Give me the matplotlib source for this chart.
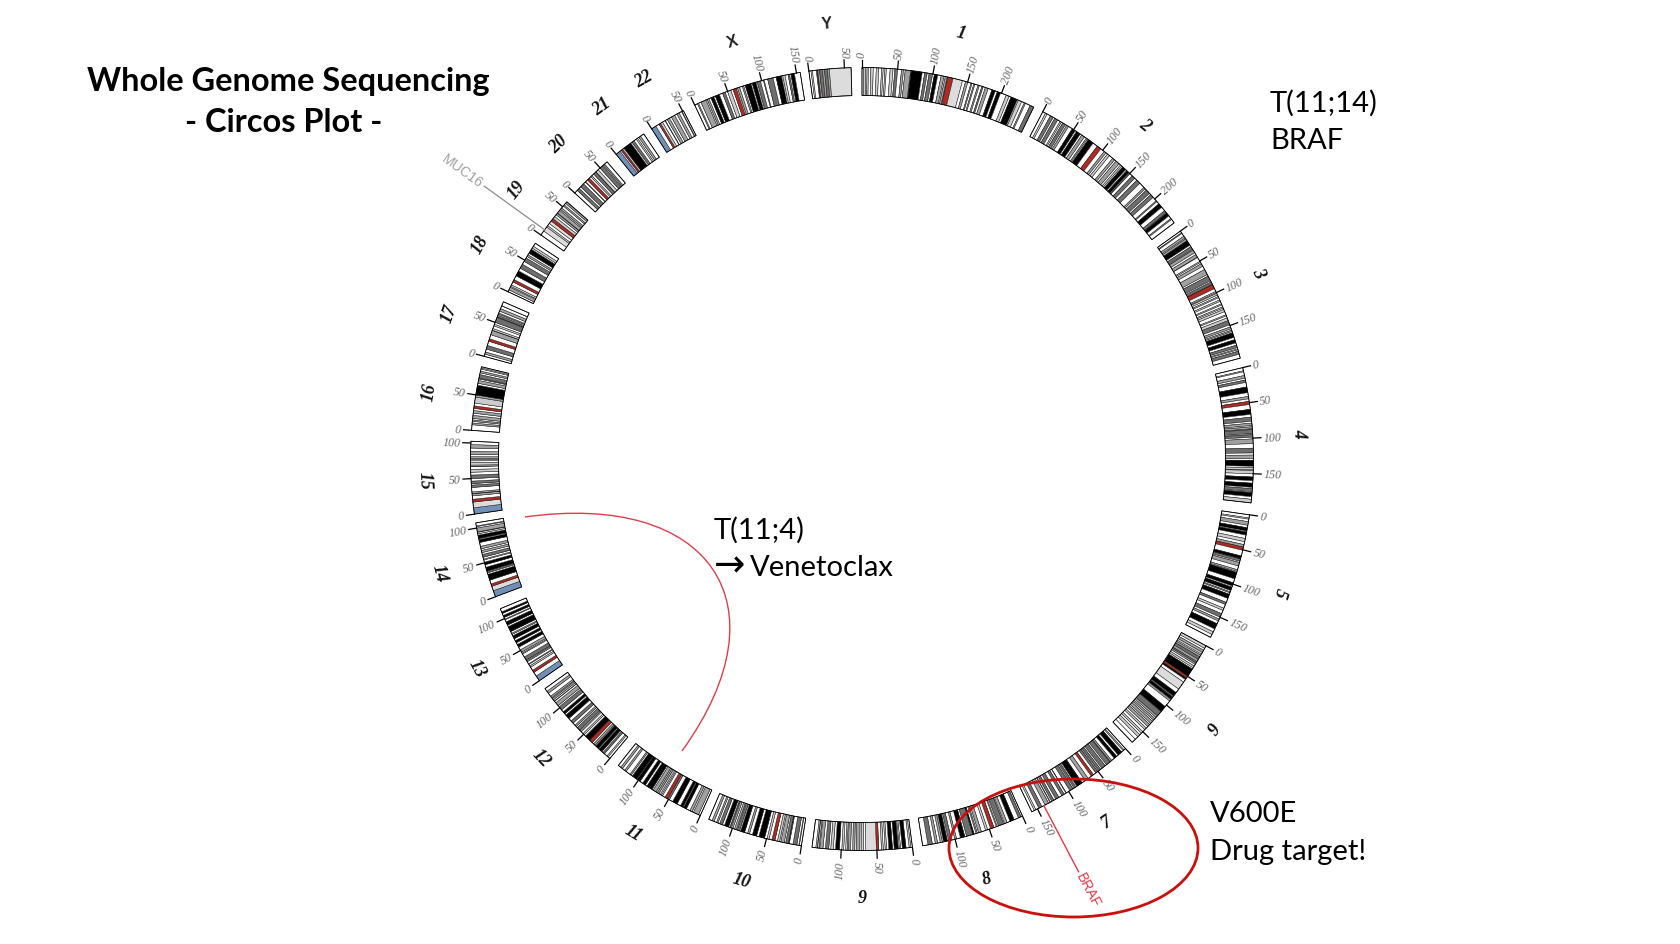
import numpy as np
import matplotlib
matplotlib.use('Agg')
import matplotlib.pyplot as plt
from matplotlib.patches import Ellipse, PathPatch
from matplotlib.path import Path

# band lists: (end in Mb, stain). stain 0-100 = giemsa, -1 centromere, -2 gvar, -3 stalk
chr1 = [(2.3,0),(5.3,25),(7.1,0),(9.1,25),(12.5,0),(15.9,25),(20.1,0),(23.6,25),(27.6,0),(29.9,25),(32.3,0),(34.3,25),(39.6,0),(43.7,25),(46.3,0),(50.2,75),(55.6,0),(58.5,50),(60.8,0),(68.5,50),(69.3,0),(84.9,100),(88.4,0),(92,75),(94.7,0),(99.7,75),(102.2,0),(107,100),(111.8,0),(116.1,50),(117.8,0),(120.6,50),(121.5,0),(128.9,-1),(142.6,-2),(147,0),(150.3,50),(155,0),(156.5,50),(159.1,0),(160.7,50),(165.2,0),(167.2,50),(170.9,0),(172.9,75),(176,0),(180.3,50),(185.8,0),(190.8,100),(193.8,0),(198.7,100),(207.2,0),(211.5,25),(214.5,0),(224.1,100),(225.6,0),(230.7,25),(234.7,0),(236.6,50),(243.7,0),(249.2,75)]
chr2 = [(4.4,0),(7,25),(12.2,0),(16.7,75),(19.2,0),(24,75),(27.9,0),(30,25),(32.1,0),(36.6,75),(38.6,0),(41.8,50),(47.8,0),(52.9,100),(55,0),(61.3,100),(63.9,0),(68.4,50),(71.5,0),(73.5,50),(75,0),(83.3,100),(90.5,0),(96.8,-1),(102.7,0),(106,50),(108.7,0),(112.2,25),(118.1,0),(121.6,50),(124.2,0),(129.9,50),(132.5,0),(135.1,25),(136.8,0),(142.2,100),(144.1,0),(148.7,100),(149.9,0),(150.5,25),(154.9,0),(159.8,75),(163.7,0),(169.7,75),(178,0),(180.6,50),(183,0),(189.4,75),(191.9,0),(197,75),(203.3,0),(204.9,50),(209,0),(215.3,100),(221.5,0),(225.2,75),(226.1,0),(231,100),(235.6,0),(237.3,50),(243.2,0)]
chr3 = [(2.8,0),(4,50),(8.7,0),(11.8,50),(13.3,0),(16.4,50),(23.9,100),(26.4,0),(30.9,75),(32.1,0),(36.5,50),(39.4,0),(43.7,50),(44.2,25),(50.6,0),(52.3,25),(54.4,0),(58.6,50),(63.7,0),(71.8,50),(74.2,0),(81.7,75),(83.5,0),(87.2,75),(87.9,0),(93.9,-1),(98.3,0),(100,25),(101.2,0),(103.8,25),(106.2,0),(107.9,25),(111.3,0),(113.5,25),(117.3,0),(119,25),(121.9,0),(123.8,25),(125.8,0),(129.2,25),(134,0),(135.7,25),(138.7,0),(142.8,25),(148.9,75),(152.1,0),(155,50),(157,0),(159,50),(160.7,0),(167.6,100),(170.9,0),(175.7,100),(179,0),(182.7,75),(184.5,0),(186,25),(187.9,0),(192.3,75),(198,0)]
chr4 = [(4.5,0),(6,25),(11.3,0),(15.2,50),(17.8,0),(21.3,75),(27.7,0),(35.8,100),(41.2,0),(44.6,50),(48.2,0),(52.7,-1),(59.5,0),(66.6,100),(70.5,0),(76.3,75),(78.9,0),(82.4,50),(84.1,0),(86.9,50),(88,25),(93.7,75),(95.1,0),(98.8,75),(101.1,0),(107.7,50),(114.1,0),(120.8,75),(123.8,0),(128.8,50),(131.1,0),(139.5,100),(141.5,0),(144.6,25),(145.5,0),(150.2,25),(154.6,0),(159.8,100),(163.3,0),(169.2,100),(171,0),(175.4,75),(176.6,0),(182.3,100),(186,0),(191,25)]
chr5 = [(4.5,0),(6.3,25),(9.8,0),(15,50),(18.4,0),(23.3,100),(24.6,0),(28.9,100),(33.8,0),(38.4,25),(42.5,0),(46.1,50),(50.7,-1),(58.9,0),(62.9,100),(63.2,0),(66.7,75),(68.4,0),(73.6,50),(78.9,0),(81.5,50),(82.8,0),(92.3,100),(98.2,0),(102.8,100),(104.5,0),(109.6,100),(111.5,0),(113.1,50),(115.2,0),(121.4,100),(127.3,0),(130.6,75),(136.2,0),(139.5,25),(144.5,0),(149.8,75),(152.7,0),(155.7,50),(159.9,0),(168,100),(172.5,0),(176.6,25),(181,0)]
chr6 = [(4.2,25),(7.1,0),(10.6,50),(13.4,25),(15.2,0),(18,50),(22,75),(25.7,50),(28,75),(30.4,50),(33,0),(36,25),(38,0),(50,100),(53,-1),(55.5,100),(60,0),(72,-2),(78,0),(84,100),(86,75),(90,100),(93,50),(103,0),(112,100),(120,75),(123,50),(125,0),(128,50),(130,0),(134,50),(136,0),(140,50),(143,0),(146,25),(150,0),(153,25),(156,0),(160,25),(165,0),(171,0)]
chr7 = [(2.8,0),(4.5,25),(7.3,0),(13.8,100),(16.5,0),(20.9,100),(25.5,0),(28,50),(28.8,0),(35,75),(37.2,0),(43.3,75),(45.4,0),(49,75),(50.5,0),(54,75),(58,0),(61.7,-1),(67,0),(72.2,50),(77.5,0),(86.4,100),(88.2,0),(91.1,75),(92.8,0),(98,75),(103.8,0),(104.5,50),(107.4,0),(111.2,75),(116,0),(121,75),(124,0),(127.5,75),(129.6,0),(130.4,25),(132.6,0),(138.2,50),(143.1,0),(147.9,75),(152.6,0),(155.1,25),(159,0)]
chr8 = [(2.2,0),(6.2,75),(12.7,0),(19,100),(23.3,0),(27.4,50),(28.8,0),(36.5,75),(38.3,0),(39.7,25),(43.1,0),(48.1,-1),(52.4,0),(55.5,25),(61.6,0),(66,50),(67.8,0),(69.6,50),(72.4,0),(74.6,100),(83.5,75),(85.9,0),(92.3,100),(97.9,0),(100.5,50),(105.1,0),(109.5,75),(111.1,0),(116.7,100),(118.3,0),(121.4,50),(125.1,0),(128.4,50),(132.6,0),(138.9,75),(146.4,0)]
chr9 = [(2.2,0),(4.6,25),(9,0),(14.2,100),(16.6,0),(18.5,25),(19.9,0),(25.6,100),(28,0),(33.2,100),(36.3,0),(38.4,25),(41,0),(43.6,25),(47.3,0),(50.7,-1),(65.9,-2),(68.7,0),(72.2,25),(74,0),(79.2,50),(81.1,0),(84.1,50),(86.9,0),(90.4,50),(91.8,0),(93.9,25),(96.6,0),(99.3,25),(102.6,0),(108.2,100),(111.3,0),(114.9,25),(117.7,0),(122.5,75),(125.8,0),(130.3,50),(131.5,0),(133.5,25),(134,0),(135.9,25),(141.2,0)]
chr10 = [(3,0),(3.8,25),(6.6,0),(12.2,75),(17.3,0),(18.6,75),(18.7,0),(22.6,75),(24.6,0),(29.6,50),(31.3,0),(34.4,25),(38,0),(42.3,-1),(46.5,0),(49.4,25),(52.9,0),(61.2,100),(64.5,0),(70.6,100),(74.9,0),(77.7,50),(82,0),(87.9,100),(89.5,0),(92.9,75),(94.1,0),(97,50),(99.3,0),(101.9,50),(103,0),(104,25),(105.8,0),(111.9,100),(114.9,0),(119.1,75),(121.7,0),(123.9,50),(127.5,0),(130.6,50),(135.5,0)]
chr11 = [(2.8,0),(10.7,50),(12.7,0),(16.2,50),(21.7,0),(26.1,100),(27.2,0),(31,100),(36.4,0),(43.5,100),(48.8,0),(51.6,75),(55.7,-1),(59.9,0),(61.7,25),(63.4,0),(65.9,25),(68.4,50),(70.4,25),(75.2,50),(77.1,0),(85.6,100),(88.3,0),(92.8,100),(97.2,0),(102.1,100),(102.9,0),(110.4,100),(112.5,0),(114.5,50),(121.2,0),(123.9,50),(127.8,0),(130.8,50),(135,0)]
chr12 = [(3.3,0),(5.4,25),(10.1,0),(12.8,75),(14.8,0),(20,100),(21.3,0),(26.5,100),(27.8,0),(30.7,50),(33.3,0),(38.2,-1),(46.4,100),(49.1,0),(51.5,25),(54.9,0),(56.6,25),(58.1,0),(63.1,75),(65.1,0),(67.7,50),(71.5,0),(75.7,75),(80.3,0),(86.7,100),(89,0),(92.6,100),(96.2,0),(101.6,75),(103.8,0),(109,50),(111.7,0),(112.3,25),(114.3,0),(116.8,50),(118.1,0),(120.7,50),(125.9,0),(129.3,50),(133.9,0)]
chr13 = [(8,-3),(14,0),(17.5,-1),(22.6,0),(24.9,25),(27.2,0),(28.3,25),(31.6,0),(33.3,50),(34.5,0),(39.5,75),(44.3,0),(45.7,25),(47.3,0),(50.9,50),(55.3,0),(59.6,100),(62.3,0),(65.7,100),(68.6,0),(73.3,100),(75.4,0),(77.2,50),(79.8,0),(87.7,100),(90,0),(95,100),(98.2,0),(99.3,25),(101.7,0),(104.8,100),(107.8,0),(110.3,100),(115.1,0)]
chr14 = [(9,-3),(15.6,-2),(19,-1),(24.6,0),(33.3,100),(35.3,0),(36.6,50),(37.8,0),(43.5,100),(47.2,0),(50.9,100),(54.1,0),(55.5,25),(58.1,0),(62.1,75),(64.8,0),(67.9,50),(70.2,0),(73.8,50),(79.3,0),(83.6,100),(84.9,0),(89.8,100),(91.7,0),(94,25),(94.5,0),(100,50),(102,0),(103,25),(107.3,0)]
chr15 = [(9,-3),(17,-2),(21,-1),(25.8,0),(28.8,50),(29.1,0),(31.4,50),(37.6,0),(41,75),(43,0),(46.5,75),(50,0),(55,75),(59,0),(63,25),(67,0),(67.5,25),(69,0),(72.7,25),(75,0),(77,25),(78,0),(81,50),(84,0),(88.5,50),(93,0),(98,50),(102.5,0)]
chr16 = [(7.9,0),(10.5,50),(12.6,0),(14.8,50),(16.8,0),(21.2,50),(24.2,0),(28.1,50),(31,0),(34.6,-1),(38.6,0),(47,25),(50,50),(64,100),(66.7,0),(70.8,50),(72.9,0),(74.1,50),(79.2,75),(81.7,0),(84.2,50),(87.1,0),(88.7,25),(90.3,0)]
chr17 = [(3.3,0),(6.5,50),(10.7,0),(16,75),(22.2,0),(25.8,-1),(31.8,0),(38.1,50),(38.4,0),(40.9,25),(44.9,0),(47.4,25),(50.2,0),(57.6,75),(58.3,0),(61.1,75),(62.6,0),(64.2,50),(67.1,0),(70.9,50),(74.8,0),(75.3,25),(81.2,0)]
chr18 = [(2.9,0),(7.1,50),(8.5,0),(10.9,25),(15.4,0),(19,-1),(25,0),(32.7,100),(37.2,0),(43.5,75),(48.2,0),(53.8,75),(56.2,0),(59,50),(61.6,0),(68,100),(70,0),(73.1,25),(78,0)]
chr19 = [(6.9,0),(13.9,-2),(16.3,25),(20,0),(24.4,-2),(28.6,-1),(32.4,25),(35.5,0),(38.3,50),(38.7,0),(43.5,50),(45.2,0),(48,50),(51.4,0),(53.6,50),(56.3,0),(59.1,50)]
chr20 = [(5.1,0),(9.2,75),(12.1,0),(17.9,75),(21.3,0),(22.3,25),(25.6,0),(29.4,-1),(32.1,0),(34.4,25),(37.6,0),(41.7,75),(42.1,0),(46.4,25),(49.8,0),(55,75),(56.5,0),(58.4,50),(63,0)]
chr21 = [(7,-3),(9,0),(11.5,-1),(14,25),(26,100),(28,0),(31.5,75),(35.3,0),(37.6,25),(39.8,0),(42.9,50),(48.1,0)]
chr22 = [(7,-3),(12.2,0),(14.7,-1),(17.9,25),(21.9,0),(22.6,25),(25.5,0),(29.2,50),(32.2,0),(37.6,50),(41,0),(44.6,50),(48.4,0),(49.4,50),(51.3,0)]
chrX = [(4.3,0),(6,50),(9.6,0),(17.4,50),(19.2,0),(21.9,50),(24.9,0),(29.3,100),(31.5,0),(37.6,100),(42.4,0),(46.4,75),(49.8,0),(54.8,25),(58.1,0),(63,-1),(64.6,0),(67.8,50),(71.8,0),(73.9,50),(76,0),(84.6,100),(86.4,0),(91.8,100),(93.5,0),(98.3,75),(102.6,0),(103.7,50),(108.7,0),(116.5,75),(120.9,0),(128.7,100),(130.4,0),(133.6,25),(138,0),(140.3,75),(142.1,0),(147.1,100),(155.3,0)]
chrY = [(3,0),(5,25),(10.5,0),(11.6,50),(12.5,-1),(15,50),(19,75),(22,50),(26,75),(28.8,50),(59.4,-2)]

chrom_names = ['1','2','3','4','5','6','7','8','9','10','11','12','13','14','15','16','17','18','19','20','21','22','X','Y']
chrom_bands = [chr1,chr2,chr3,chr4,chr5,chr6,chr7,chr8,chr9,chr10,chr11,chr12,chr13,chr14,chr15,chr16,chr17,chr18,chr19,chr20,chr21,chr22,chrX,chrY]
# where each chromosome starts on the ring, degrees clockwise from the top
chrom_starts = [0,27.5,54.4,76.5,98.2,118.5,137.7,155.8,172.6,188.9,204.4,220.1,235.5,249.4,261.9,274.2,285.2,295.3,304.9,312.8,321.1,327.5,334.7,352.2]

# gene labels: chromosome, position in Mb
gene_braf = ('BRAF', '7', 140)
gene_muc16 = ('MUC16', '19', 9)

stain_colors = {0:'#ffffff', 25:'#cccccc', 50:'#a0a0a0', 75:'#6e6e6e', 100:'#000000', -1:'#b02a22', -2:'#dcdcdc', -3:'#7090b8'}

deg_per_mb = 0.1044
r_in, r_out = 363.5, 391.5

fig = plt.figure(figsize=(16.8, 9.45), dpi=100)
ax = fig.add_axes([402/1680, 25/945, 920/1680, 920/945], projection='polar')
ax.set_theta_zero_location('N')
ax.set_theta_direction(-1)
ax.set_ylim(0, 460)
ax.axis('off')

overlay = fig.add_axes([0, 0, 1, 1])
overlay.set_xlim(0, 1680)
overlay.set_ylim(945, 0)
overlay.axis('off')
overlay.patch.set_alpha(0)

chrom_start = dict(zip(chrom_names, chrom_starts))
for name, bands, start in zip(chrom_names, chrom_bands, chrom_starts):
    length = bands[-1][0]
    prev = 0.0
    for end, stain in bands:
        t0 = np.radians(start + prev * deg_per_mb)
        w = np.radians((end - prev) * deg_per_mb)
        ax.bar(t0, r_out - r_in, width=w, bottom=r_in, align='edge',
               color=stain_colors[stain], edgecolor='#1a1a1a', linewidth=0.35)
        prev = end
    ax.bar(np.radians(start), r_out - r_in, width=np.radians(length * deg_per_mb), bottom=r_in,
           align='edge', color='none', edgecolor='black', linewidth=0.6)

    # ticks and their numbers
    for mb in range(0, int(length) + 1, 50):
        th = start + mb * deg_per_mb
        ax.plot([np.radians(th)] * 2, [r_out, r_out + 8], color='black', lw=0.9, clip_on=False)
        if th < 180:
            rot, ha = 90 - th, 'left'
        else:
            rot, ha = 270 - th, 'right'
        ax.text(np.radians(th), r_out + 10.5, str(mb), rotation=rot, rotation_mode='anchor', ha=ha, va='center',
                fontsize=8.6, color='#666666', family='Liberation Serif', style='italic', clip_on=False)

    # chromosome name
    mid = start + length * deg_per_mb / 2
    if mid < 140 or mid > 268:
        rot = -mid
    else:
        rot = 180 - mid
    if name in ('X', 'Y'):
        ax.text(np.radians(mid), 437, name, rotation=rot, rotation_mode='anchor', ha='center', va='center',
                fontsize=11.5, color='#222222', family='Liberation Sans', weight='bold')
    else:
        ax.text(np.radians(mid), 438, name, rotation=rot, rotation_mode='anchor', ha='center', va='center',
                fontsize=13, color='#111111', family='Liberation Serif', style='italic', weight='bold')

# gene call-outs
th = chrom_start[gene_braf[1]] + gene_braf[2] * deg_per_mb
ax.plot([np.radians(th)] * 2, [r_out, 466], color='#e03a46', lw=1.0, clip_on=False)
ax.text(np.radians(th), 468, gene_braf[0], rotation=90 - th, rotation_mode='anchor', ha='left', va='center',
        fontsize=10, color='#e03a46', family='Liberation Sans', clip_on=False)
th = chrom_start[gene_muc16[1]] + gene_muc16[2] * deg_per_mb
ax.plot([np.radians(th)] * 2, [r_out, 466], color='#8c8c8c', lw=0.9, clip_on=False)
ax.text(np.radians(th), 469, gene_muc16[0], rotation=270 - th, rotation_mode='anchor', ha='right', va='center',
        fontsize=10, color='#a0a0a0', family='Liberation Sans', clip_on=False)

# translocation link
link_path = Path([(525, 518), (710, 492), (788, 605), (682, 752)],
                 [Path.MOVETO, Path.CURVE4, Path.CURVE4, Path.CURVE4])
overlay.add_patch(PathPatch(link_path, fc='none', ec='#d8404c', lw=1.0))

overlay.add_patch(Ellipse((1073.5, 849), 249, 138, fc='none', ec='#c8100c', lw=2.0))

title_font = ['Lato', 'DejaVu Sans']
overlay.text(288, 81, 'Whole Genome Sequencing', ha='center', va='center', fontsize=23.4, weight='bold', family=title_font, color='black')
overlay.text(284, 123, '- Circos Plot -', ha='center', va='center', fontsize=23.4, weight='bold', family=title_font, color='black')
overlay.text(1270, 103, 'T(11;14)', ha='left', va='center', fontsize=21, family=title_font, color='black')
overlay.text(1270, 141, 'BRAF', ha='left', va='center', fontsize=21, family=title_font, color='black')
overlay.text(714, 530, 'T(11;4)', ha='left', va='center', fontsize=21, family=title_font, color='black')
overlay.text(714, 566, '→', ha='left', va='center', fontsize=27, family=['DejaVu Sans'], color='black')
overlay.text(750, 568, 'Venetoclax', ha='left', va='center', fontsize=21, family=title_font, color='black')
overlay.text(1210, 814, 'V600E', ha='left', va='center', fontsize=21, family=title_font, color='black')
overlay.text(1210, 852, 'Drug target!', ha='left', va='center', fontsize=21, family=title_font, color='black')

fig.savefig('out.png', dpi=100, facecolor='white')
